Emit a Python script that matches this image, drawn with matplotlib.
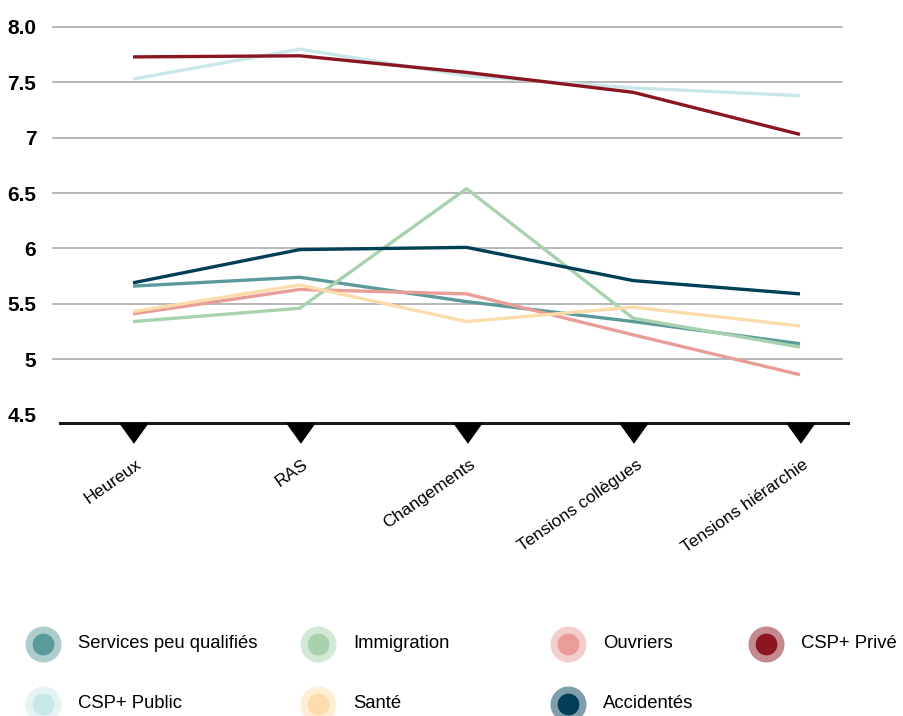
import matplotlib.pyplot as plt
import matplotlib.colors as mcolors
from matplotlib.lines import Line2D
from matplotlib.transforms import ScaledTranslation
import numpy as np

categories = ['Heureux', 'RAS', 'Changements', 'Tensions collègues', 'Tensions hiérarchie']

services = [5.66, 5.74, 5.52, 5.34, 5.14]
immigration = [5.34, 5.46, 6.54, 5.37, 5.11]
ouvriers = [5.41, 5.63, 5.59, 5.22, 4.86]
csp_prive = [7.73, 7.74, 7.59, 7.41, 7.03]
csp_public = [7.53, 7.80, 7.56, 7.45, 7.38]
sante = [5.43, 5.67, 5.34, 5.47, 5.30]
accidentes = [5.69, 5.99, 6.01, 5.71, 5.59]

names = ['Services peu qualifiés', 'Immigration', 'Ouvriers', 'CSP+ Privé',
         'CSP+ Public', 'Santé', 'Accidentés']
series = [services, immigration, ouvriers, csp_prive, csp_public, sante, accidentes]
colors = ['#5b9a9b', '#a8d1ad', '#e89d98', '#8b1520', '#c9e6e8', '#fbdcaa', '#003f56']
zorders = [3, 4, 3, 6, 5, 4, 7]

yticks = [8.0, 7.5, 7, 6.5, 6, 5.5, 5, 4.5]
ytick_labels = ['8.0', '7.5', '7', '6.5', '6', '5.5', '5', '4.5']

W, H = 904, 716
fig = plt.figure(figsize=(W / 100, H / 100), dpi=100)
ax = fig.add_axes([53 / W, 1 - 423 / H, (842 - 53) / W, (423 - 27) / H])

x = np.arange(len(categories))
for vals, col, z in zip(series, colors, zorders):
    ax.plot(x, vals, color=col, lw=2.4, zorder=z, solid_capstyle='butt')

ax.set_xlim(-0.48, 4.252)
ax.set_ylim(4.424, 8.0)

# horizontal guides (no line at 4.5, the base line sits there)
for y in [5, 5.5, 6, 6.5, 7, 7.5, 8.0]:
    ax.axhline(y, color='#a3a3a3', lw=1.1, zorder=1, clip_on=False)

for s in ax.spines.values():
    s.set_visible(False)

ax.plot([0.009, 1.008], [0, 0], transform=ax.transAxes, color='#1a1a1a',
        lw=2.2, clip_on=False, zorder=8)

# downward triangles hanging under the base line
tri = [(-1, 0.7), (1, 0.7), (0, -0.7)]
shift = ScaledTranslation(0, -10 / 100, fig.dpi_scale_trans)
ax.plot(x, [4.424] * len(x), linestyle='none', marker=tri, markersize=20,
        color='black', clip_on=False, zorder=9, transform=ax.transData + shift)

font = ['Liberation Sans', 'DejaVu Sans']

ax.set_yticks(yticks)
ax.set_yticklabels(ytick_labels, family=font, fontweight='bold', fontsize=15)
ax.tick_params(axis='y', length=0, pad=12)

ax.set_xticks(x)
ax.set_xticklabels([])
ax.tick_params(axis='x', length=0)
for i, lab in enumerate(categories):
    ax.annotate(lab, xy=(i, 4.424), xycoords='data', xytext=(7, -40),
                textcoords='offset pixels', rotation=35, rotation_mode='anchor',
                ha='right', va='center', fontsize=12.5, family=font,
                annotation_clip=False)

# legend: two rows of dot markers with a pale halo
col_x = [43, 318, 568, 766]
row_y = [644, 704]
for k, (name, col) in enumerate(zip(names, colors)):
    r, c = divmod(k, 4)
    px, py = col_x[c] / W, 1 - row_y[r] / H
    halo = tuple(0.5 * np.array(mcolors.to_rgb(col)) + 0.5)
    fig.add_artist(Line2D([px], [py], transform=fig.transFigure, marker='o',
                          markersize=20.8, markerfacecolor=col,
                          markeredgecolor=halo, markeredgewidth=5.1))
    fig.text(px + 35 / W, py, name, va='center', ha='left', fontsize=13.3,
             family=font)

fig.savefig('out.png', dpi=100)
